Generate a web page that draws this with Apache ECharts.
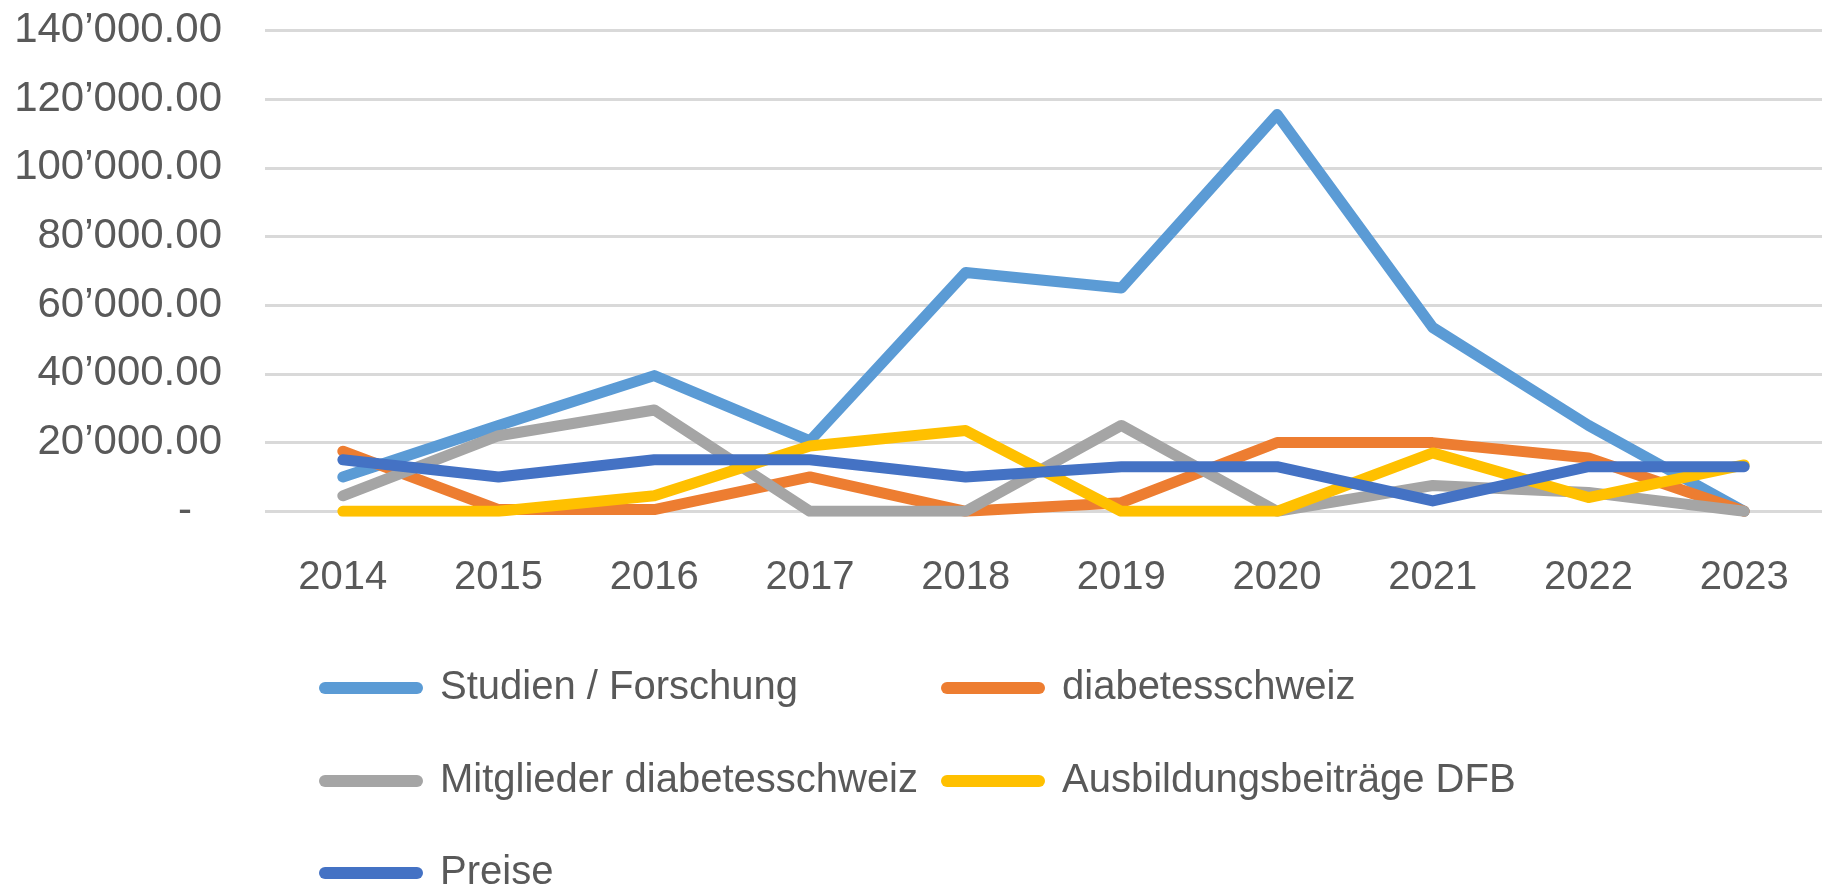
<!DOCTYPE html>
<html>
<head>
<meta charset="utf-8">
<script src="https://cdn.jsdelivr.net/npm/echarts@6/dist/echarts.min.js"></script>
<style>
html,body{margin:0;padding:0;background:#fff;}
#chart{width:1832px;height:889px;}
</style>
</head>
<body>
<div id="chart"></div>
<script>
const categories = ['2014','2015','2016','2017','2018','2019','2020','2021','2022','2023'];
const studien = [10000, 25000, 39500, 20500, 69500, 65000, 115500, 53500, 25000, 0];
const diabetesschweiz = [17500, 500, 500, 10000, 0, 2500, 20000, 20000, 15500, 0];
const mitglieder = [4500, 22000, 29500, 0, 0, 25000, 0, 7500, 5500, 0];
const ausbildung = [0, 0, 4500, 19000, 23500, 0, 0, 17000, 4000, 13500];
const preise = [15000, 10000, 15000, 15000, 10000, 13000, 13000, 3000, 13000, 13000];
const seriesNames = ['Studien / Forschung','diabetesschweiz','Mitglieder diabetesschweiz','Ausbildungsbeiträge DFB','Preise'];
const colors = ['#5B9BD5','#ED7D31','#A5A5A5','#FFC000','#4472C4'];

const FONT = "'Liberation Sans', Arial, sans-serif";
const FS = 40;
const FSY = 42;
const TXT = '#595959';

function fmt(v){
  if (v === 0) return '{d|-}';
  const s = Math.round(v).toString().replace(/\B(?=(\d{3})+(?!\d))/g, '\u2019');
  return s + '.00';
}

const dataSets = [studien, diabetesschweiz, mitglieder, ausbildung, preise];
const series = seriesNames.map((n,i)=>({
  name:n, type:'line', data:dataSets[i], showSymbol:false, symbol:'none', smooth:false,
  lineStyle:{width:11, color:colors[i], cap:'round', join:'round'},
  itemStyle:{color:colors[i]},
  emphasis:{disabled:true}, animation:false
}));

const legendPos = [[314,660],[936,660],[314,753],[936,753],[314,845]];
const iconPath = 'path://M6 0L98 0A6 6 0 0 1 98 12L6 12A6 6 0 0 1 6 0Z';
const legends = seriesNames.map((n,i)=>({
  data:[n], left:legendPos[i][0], top:legendPos[i][1],
  icon:iconPath, itemWidth:104, itemHeight:12, selectedMode:false,
  itemStyle:{borderWidth:0},
  textStyle:{fontFamily:FONT, fontSize:FS, color:TXT, padding:[0,0,0,12], lineHeight:46}
}));

const chart = echarts.init(document.getElementById('chart'), null, {renderer:'canvas'});
chart.setOption({
  animation:false,
  color:colors,
  grid:{left:265, right:10, top:30.4, bottom:377.7, containLabel:false},
  xAxis:{
    type:'category', data:categories, boundaryGap:true,
    axisLine:{show:false}, axisTick:{show:false},
    axisLabel:{fontFamily:FONT, fontSize:FS, color:TXT, margin:47}
  },
  yAxis:{
    type:'value', min:0, max:140000, interval:20000,
    axisLine:{show:false}, axisTick:{show:false},
    splitLine:{show:true, lineStyle:{color:'#D9D9D9', width:3}},
    axisLabel:{fontFamily:FONT, fontSize:FSY, color:TXT, margin:43, formatter:fmt,
      rich:{d:{fontFamily:FONT, fontSize:FSY, color:TXT, padding:[0,30,0,0]}}}
  },
  legend:legends,
  series:series
});
</script>
</body>
</html>
